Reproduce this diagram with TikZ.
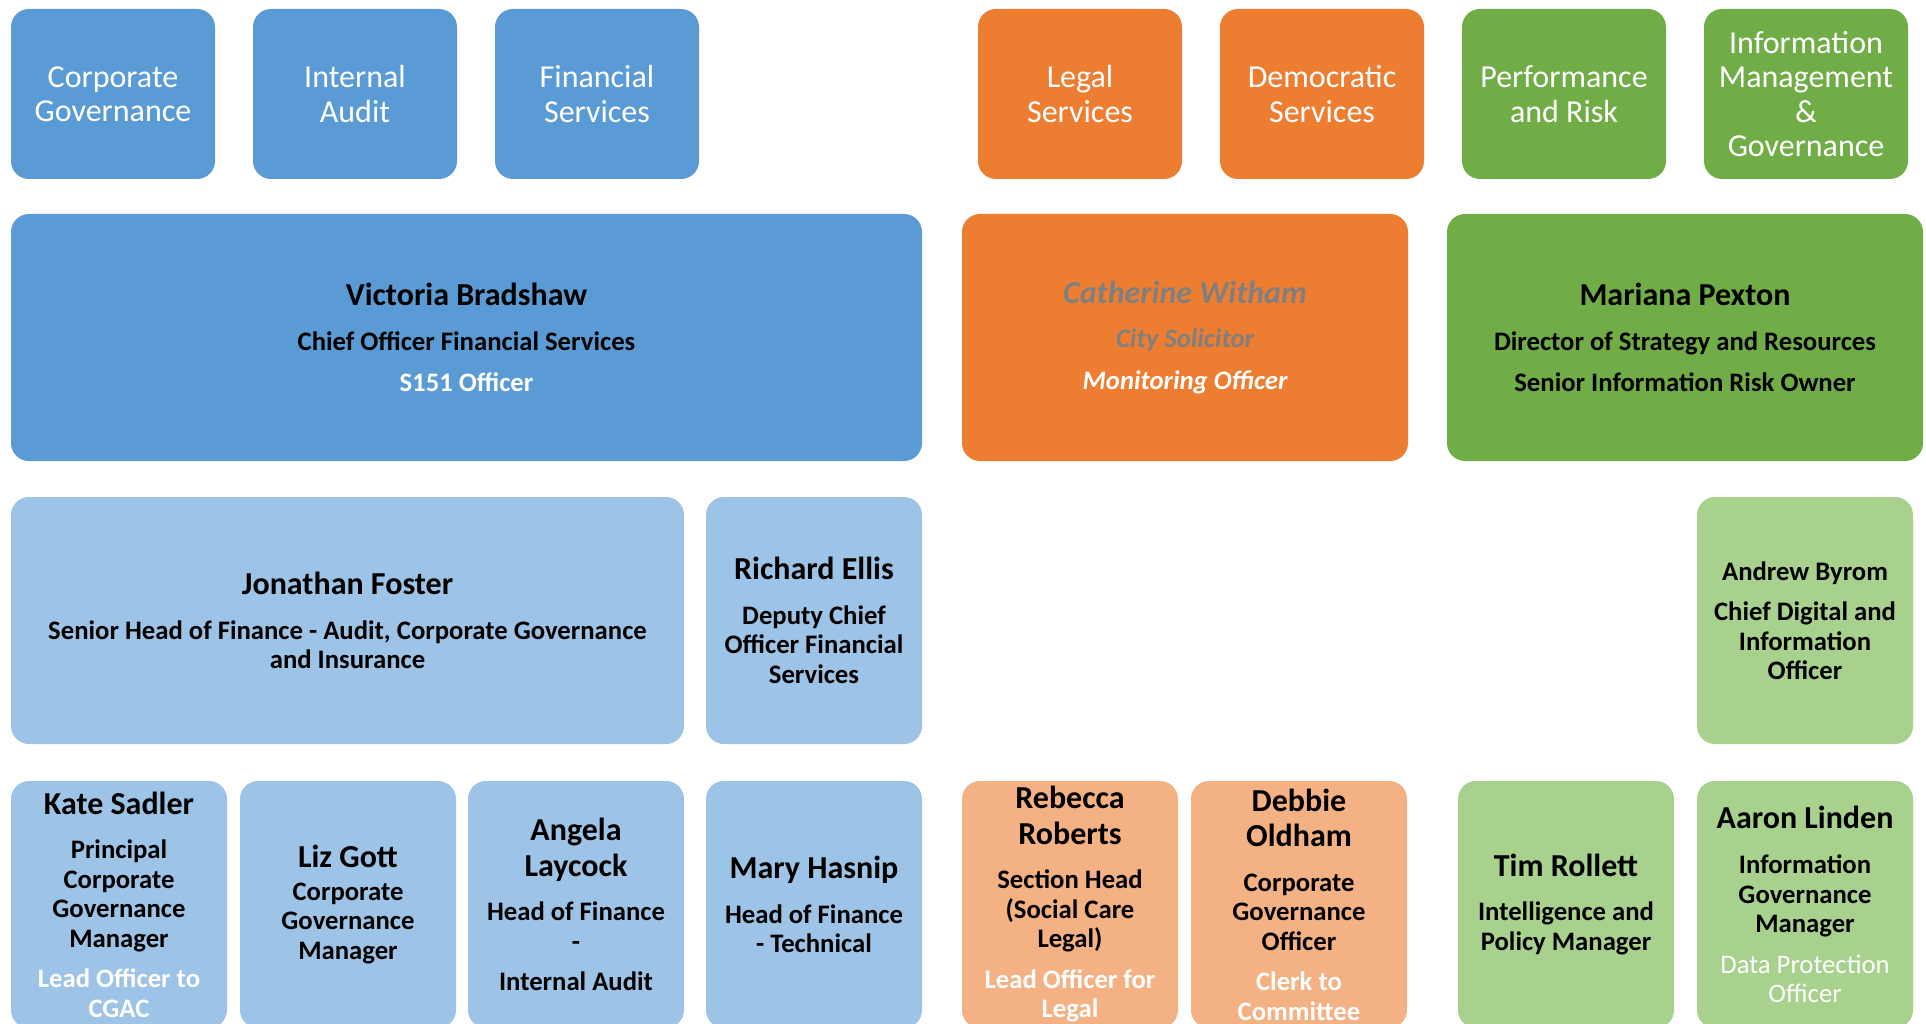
\documentclass[tikz,border=0pt]{standalone}
\usepackage{fontspec}
\setmainfont{Carlito}
\definecolor{cblue}{HTML}{5B9BD5}
\definecolor{corange}{HTML}{ED7D31}
\definecolor{cgreen}{HTML}{70AD47}
\definecolor{lblue}{HTML}{9DC3E6}
\definecolor{lorange}{HTML}{F4B183}
\definecolor{lgreen}{HTML}{A9D18E}
\definecolor{cgrey}{HTML}{7F7F7F}
\newcommand{\nm}[1]{{\fontsize{32}{35}\selectfont #1}}
\newcommand{\wt}[1]{{\color{white}#1}}
\newcommand{\gy}[1]{{\color{cgrey}\itshape #1}}
\begin{document}
\begin{tikzpicture}[x=1pt,y=-1pt,
  bx/.style={rounded corners=18pt, anchor=north west, inner sep=0pt, outer sep=0pt, align=center, text=black},
  topbox/.style={bx, minimum width=204pt, minimum height=170pt, text=white, font=\fontsize{32}{34.4}\selectfont},
  ppl/.style={bx, minimum height=247pt, font=\fontsize{26.7}{29.5}\selectfont\bfseries},
  narrow/.style={ppl, minimum width=216pt}]
\fill[white] (0,0) rectangle (1926,1024);
\useasboundingbox (0,0) rectangle (1926,1024);

% Row 1
\node[topbox, fill=cblue] (corpgov) at (11,9) {Corporate\\Governance};
\node[topbox, fill=cblue] (intaudit) at (253,9) {Internal\\Audit};
\node[topbox, fill=cblue] (finserv) at (495,9) {Financial\\Services};
\node[topbox, fill=corange] (legal) at (978,9) {Legal\\Services};
\node[topbox, fill=corange] (democ) at (1220,9) {Democratic\\Services};
\node[topbox, fill=cgreen] (perf) at (1462,9) {Performance\\and Risk};
\node[topbox, fill=cgreen] (infomgmt) at (1704,9) {Information\\Management\\\&\\Governance};

% Row 2
\node[ppl, fill=cblue, minimum width=911pt] (victoria) at (11,214)
  {\nm{Victoria Bradshaw}\\[15pt]Chief Officer Financial Services\\[12pt]\wt{S151 Officer}};
\node[ppl, fill=corange, minimum width=446pt] (catherine) at (962,214)
  {\nm{\gy{Catherine Witham}}\\[15pt]\gy{City Solicitor}\\[12pt]\wt{\itshape Monitoring Officer}};
\node[ppl, fill=cgreen, minimum width=476pt] (mariana) at (1447,214)
  {\nm{Mariana Pexton}\\[15pt]Director of Strategy and Resources\\[12pt]Senior Information Risk Owner};

% Row 3
\node[ppl, fill=lblue, minimum width=673pt] (jonathan) at (11,497)
  {\nm{Jonathan Foster}\\[15pt]Senior Head of Finance - Audit, Corporate Governance\\and Insurance};
\node[narrow, fill=lblue] (richard) at (706,497)
  {\nm{Richard Ellis}\\[15pt]Deputy Chief\\Officer Financial\\Services};
\node[narrow, fill=lgreen] (andrew) at (1697,497)
  {Andrew Byrom\\[11pt]Chief Digital and\\Information\\Officer};

% Row 4
\node[narrow, fill=lblue] (kate) at (11,781)
  {\nm{Kate Sadler}\\[15pt]Principal\\Corporate\\Governance\\Manager\\[11pt]\wt{Lead Officer to}\\\wt{CGAC}};
\node[narrow, fill=lblue] (liz) at (240,781)
  {\nm{Liz Gott}\\[3pt]Corporate\\Governance\\Manager};
\node[narrow, fill=lblue] (angela) at (468,781)
  {\nm{Angela}\\[6pt]\nm{Laycock}\\[15pt]Head of Finance\\-\\[11pt]Internal Audit};
\node[narrow, fill=lblue] (mary) at (706,781)
  {\nm{Mary Hasnip}\\[15pt]Head of Finance\\- Technical};
\node[narrow, fill=lorange] (rebecca) at (962,781)
  {\nm{Rebecca}\\[6pt]\nm{Roberts}\\[15pt]Section Head\\(Social Care\\Legal)\\[11pt]\wt{Lead Officer for}\\\wt{Legal}};
\node[narrow, fill=lorange] (debbie) at (1191,781)
  {\nm{Debbie}\\[6pt]\nm{Oldham}\\[15pt]Corporate\\Governance\\Officer\\[11pt]\wt{Clerk to}\\\wt{Committee}};
\node[narrow, fill=lgreen] (tim) at (1458,781)
  {\nm{Tim Rollett}\\[15pt]Intelligence and\\Policy Manager};
\node[narrow, fill=lgreen] (aaron) at (1697,781)
  {\nm{Aaron Linden}\\[16pt]Information\\Governance\\Manager\\[11pt]\wt{\mdseries Data Protection}\\\wt{\mdseries Officer}};
\end{tikzpicture}
\end{document}
